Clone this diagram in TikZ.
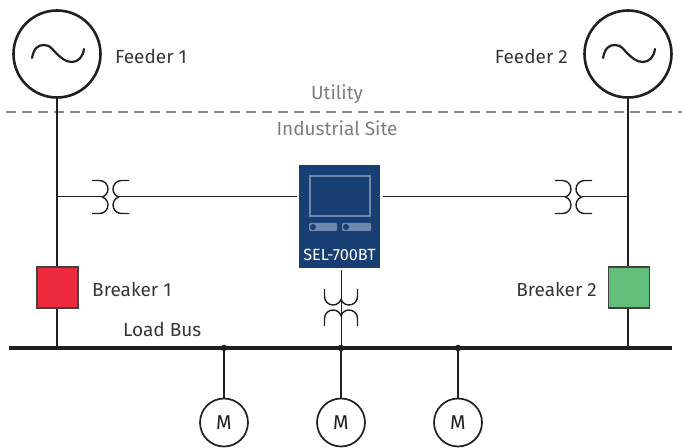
\documentclass[tikz,border=0pt]{standalone}
\usepackage{fontspec}
\setmainfont{Fira Sans}
\definecolor{inkdark}{HTML}{231F20}
\definecolor{linegray}{HTML}{8C8C8C}
\definecolor{relayblue}{HTML}{173F73}
\definecolor{relaylight}{HTML}{6E8AAE}
\definecolor{breakerred}{HTML}{EE2A3C}
\definecolor{breakergreen}{HTML}{62BF7A}
\tikzset{
  source/.style={draw=inkdark,circle,line width=2.6pt,minimum size=87pt,inner sep=0pt},
  breaker/.style={draw=inkdark!85,line width=1.2pt,minimum size=41pt,inner sep=0pt},
  motor/.style={draw=inkdark,circle,line width=1.7pt,minimum size=48pt,inner sep=0pt,font=\fontsize{20}{23}\selectfont,text=inkdark},
  lab/.style={font=\fontsize{19}{22}\selectfont,text=inkdark!90,inner sep=0pt},
  zone/.style={font=\fontsize{19}{22}\selectfont,text=linegray!90!black,inner sep=0pt},
  heavy/.style={draw=inkdark,line width=2.6pt},
  thin line/.style={draw=inkdark,line width=1pt},
  wave/.pic={
    \draw [inkdark,line width=2.2pt,line cap=round]
      (-25,-4) .. controls (-23,6) and (-19,9) .. (-13,9)
      .. controls (-6,9) and (-4,3.5) .. (0,0)
      .. controls (4,-3.5) and (8,-8) .. (15,-8)
      .. controls (21,-8) and (26,-3) .. (27,5);
  },
  ctcoil/.pic={
    \coordinate (-a) at (-8.1,0);
    \coordinate (-b) at (8.1,0);
    \foreach \s in {-1,1} {
      \draw [inkdark,line width=1.4pt,xscale=\s]
        (-18.5,16.5) -- (-11,16.5) arc (90:-70:8.5) arc (70:-90:8.5) -- (-18.5,-16.5);
    }
  }
}
\begin{document}
\begin{tikzpicture}[x=1pt,y=1pt]
  \useasboundingbox (0,0) rectangle (682,447);

  % utility boundary
  \coordinate (borderL) at (6,335);
  \coordinate (borderR) at (682,335);
  \draw [linegray,line width=2.8pt,dash pattern=on 10pt off 6pt] (borderL) -- (borderR);
  \node [zone] (utility) at (337,352.5) {Utility};
  \node [zone] (site) at (337,319) {Industrial Site};

  % feeders and breakers
  \node [source] (feederA) at (57,393) {};
  \node [source] (feederB) at (628,393) {};
  \pic at (feederA.center) {wave};
  \pic at (feederB.center) {wave};
  \node [lab,anchor=west] (feederAtxt) at (115,391) {Feeder 1};
  \node [lab,anchor=east] (feederBtxt) at (568,391) {Feeder 2};
  \node [breaker,fill=breakerred] (breakerA) at (57.5,159.5) {};
  \node [breaker,fill=breakergreen] (breakerB) at (629,159.5) {};
  \node [lab,anchor=west] (breakerAtxt) at (92,158) {Breaker 1};
  \node [lab,anchor=east] (breakerBtxt) at (597,158) {Breaker 2};

  % load bus
  \coordinate (busL) at (9,99);
  \coordinate (busR) at (672,99);
  \node [lab,anchor=west] (bustxt) at (123,118) {Load Bus};
  \draw [inkdark,line width=4.5pt] (busL) -- (busR);
  \draw [heavy] (feederA) -- (feederA |- breakerA.north);
  \draw [heavy] (feederB) -- (feederB |- breakerB.north);
  \draw [heavy] (feederA |- breakerA.south) -- (feederA |- busL);
  \draw [heavy] (feederB |- breakerB.south) -- (feederB |- busL);

  % relay
  \node [fill=relayblue,minimum width=81pt,minimum height=103pt,inner sep=0pt,outer sep=2.5pt] (relay) at (339.5,230.5) {};
  \node [draw=relaylight,line width=2pt,minimum width=60pt,minimum height=40pt,inner sep=0pt] (screen) at (340,251) {};
  \node [fill=relaylight,rounded corners=1pt,minimum width=28pt,minimum height=8pt,inner sep=0pt] (btnA) at (323,220) {};
  \node [fill=relaylight,rounded corners=1pt,minimum width=29pt,minimum height=8pt,inner sep=0pt] (btnB) at (356.5,220) {};
  \node [circle,fill=relayblue,minimum size=6pt,inner sep=0pt] (ledA) at (313,220) {};
  \node [circle,fill=relayblue,minimum size=6pt,inner sep=0pt] (ledB) at (346,220) {};
  \node [text=white,font=\fontsize{16.2}{19}\selectfont,inner sep=0pt] (relaytxt) at (339.5,192) {SEL-700BT};

  % current transformers
  \coordinate (tapA) at (57,250);
  \coordinate (tapB) at (628,250);
  \pic (ctA) at (110.5,250) {ctcoil};
  \pic (ctB) at (573.5,250) {ctcoil};
  \draw [thin line] (tapA) -- (ctA-a);
  \draw [thin line] (ctA-b) -- (relay.west |- tapA);
  \draw [thin line] (relay.east |- tapB) -- (ctB-a);
  \draw [thin line] (ctB-b) -- (tapB);

  % motors
  \foreach \i/\x in {A/224,B/341,C/458} {
    \node [motor] (motor\i) at (\x,24.5) {M};
    \node [circle,fill=inkdark,minimum size=6.5pt,inner sep=0pt] (dot\i) at (\x,99) {};
    \draw [heavy] (dot\i) -- (motor\i);
  }
  \pic [rotate=90] (ctC) at (341,139.5) {ctcoil};
  \draw [thin line] (relay.south -| dotB) -- (dotB);
\end{tikzpicture}
\end{document}
